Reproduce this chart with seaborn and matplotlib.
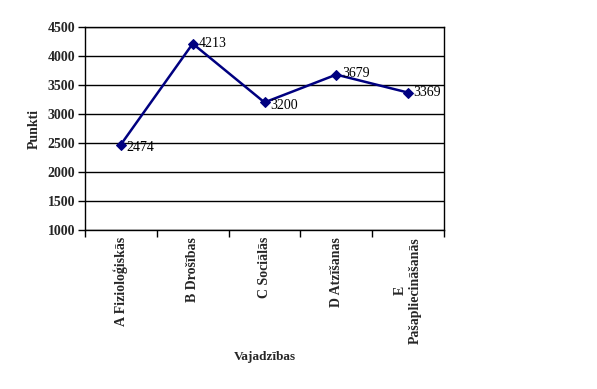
import matplotlib
matplotlib.use("Agg")
import matplotlib.pyplot as plt
import seaborn as sns
import pandas as pd

categories = ["A Fizioloģiskās", "B Drošības", "C Sociālās", "D Atzīšanas", "E\nPašapliecināšanās"]
values = [2474, 4213, 3200, 3679, 3369]
yticks = [1000, 1500, 2000, 2500, 3000, 3500, 4000, 4500]

sns.set_theme(style="white")
plt.rcParams['font.family'] = ['Liberation Serif', 'DejaVu Serif']

df = pd.DataFrame({"x": range(len(categories)), "y": values})

fig = plt.figure(figsize=(5.97, 3.89), dpi=100)
ax = fig.add_axes([85/597, 1-230/389, (444-85)/597, (230-27)/389])

sns.lineplot(data=df, x="x", y="y", ax=ax, color="#000080", linewidth=1.8,
             marker="D", markersize=5, markeredgecolor="#000080", markerfacecolor="#000080")

offsets = [-2, 0, -2, 1, 0]
for i, v in enumerate(values):
    ax.annotate(str(v), (i, v), xytext=(4, offsets[i]), textcoords="offset points",
                ha="left", va="center", fontsize=10, color="black")

ax.set_xlim(-0.5, len(categories) - 0.5)
ax.set_ylim(1000, 4500)
ax.set_yticks(yticks)
ax.set_yticklabels([str(t) for t in yticks], fontsize=10, fontweight="bold")
ax.yaxis.grid(True, color="black", linewidth=1)
ax.set_axisbelow(True)

ax.set_xticks([i - 0.5 for i in range(len(categories) + 1)])
ax.set_xticklabels([])
ax.set_xticks(range(len(categories)), minor=True)
ax.set_xticklabels(categories, minor=True, rotation=90, fontsize=10, fontweight="bold",
                   va="top", ha="center", linespacing=1.2)
ax.tick_params(axis="x", which="minor", length=0, pad=5)
ax.tick_params(axis="x", which="major", length=5, width=1, color="black", direction="out", bottom=True)
ax.tick_params(axis="y", length=5, width=1, color="black", direction="out", left=True, pad=2)

for s in ax.spines.values():
    s.set_color("black")
    s.set_linewidth(1)
    s.set_visible(True)

ax.set_xlabel("Vajadzības", fontsize=9.5, fontweight="bold", labelpad=5)
ax.set_ylabel("Punkti", fontsize=10, fontweight="bold", labelpad=5)

fig.savefig("out.png", dpi=100)
